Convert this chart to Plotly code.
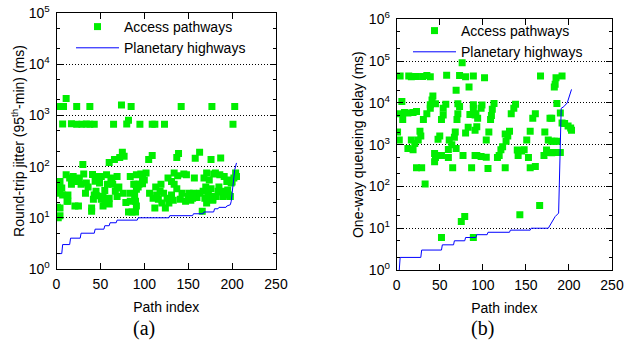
import plotly.graph_objects as go

# ---------------- data ----------------
# (a) Round-trip jitter
a_access_idx = [4, 8, 11, 23, 38, 74, 85, 142, 177, 203,
                7, 17, 23, 29, 34, 38, 43, 65, 80, 82, 95, 109, 112, 123, 201,
                30, 60, 66, 72, 75, 77,
                11, 15, 19, 21, 17, 26, 31, 34, 28, 6, 4, 7, 13, 13, 4, 4, 25,
                47, 51, 57, 49, 62, 69, 64, 69, 45, 55, 67, 43, 53, 69, 42, 51, 60, 55, 60, 40, 53, 40,
                84, 84, 84, 82, 86, 88,
                105, 109, 137, 139, 158, 163, 176,
                91, 96, 98, 100, 90, 91, 94, 98,
                134, 138, 145, 148, 157, 171, 174, 179,
                131, 134, 137, 118, 122, 114, 126, 128, 131,
                116, 120, 124, 112, 89, 90, 90,
                141, 147, 151, 156, 155,
                167, 169, 171, 175, 176, 178, 166, 91,
                187, 181, 186, 191, 194, 199, 204, 205,
                184, 188, 193, 196, 198, 182, 190, 178,
                1, 2, 2, 4, 12, 21,
                41, 44, 36, 33, 46, 58, 63, 71, 76, 79, 93, 102, 106, 110, 113, 119, 127,
                133, 143, 150, 153, 160, 163, 168, 170, 173, 185, 189, 195, 197, 200, 202]
a_access_val = [1500, 1500, 2150, 1500, 1500, 1600, 1500, 1500, 1500, 1500,
                680, 690, 670, 670, 680, 670, 670, 670, 680, 800, 670, 670, 670, 670, 670,
                110, 120, 137, 150, 190, 160,
                69, 60, 64, 51, 45, 60, 72, 48, 45, 38, 51, 28, 28, 21, 15.5, 11, 17,
                64, 64, 69, 48, 55, 64, 45, 38, 33, 34, 33, 28, 26, 26, 23, 23, 24, 21, 18.5, 15.5, 17, 13.5,
                64, 30, 21, 13, 13, 45,
                137, 165, 150, 180, 145, 190, 137,
                69, 72, 60, 55, 45, 36, 45, 46,
                75, 66, 72, 69, 60, 75, 55, 72,
                51, 45, 37, 33, 30, 28, 24, 19.5, 28,
                23, 19.5, 15.5, 15.5, 28, 21, 13,
                23, 21, 30, 30, 24,
                33, 24, 19.5, 26, 37, 22, 13.5, 17,
                148, 75, 69, 64, 51, 48, 75, 64,
                33, 32, 30, 28, 26, 26, 26, 23,
                16, 10, 39, 30, 21, 17,
                70, 52, 40, 30, 27, 45, 60, 40, 30, 20, 40, 75, 30, 24, 40, 45, 60,
                22, 30, 26, 22, 25, 30, 60, 40, 30, 40, 33, 35, 55, 50, 60]

a_highway_idx = [1, 6, 7, 15, 16, 27, 28, 43, 44, 54, 55, 60, 61, 68, 69, 92, 93,
                 128, 129, 155, 156, 167, 168, 179, 180, 184, 185, 193, 194, 198,
                 199, 201, 203, 205]
a_highway_val = [2, 2, 3, 3, 4, 4, 5, 5, 6, 6, 7, 7, 8, 8, 9, 9, 10,
                 10, 11, 11, 12, 12, 13, 13, 15, 15, 16, 16, 17, 18,
                 21, 41, 87, 118]

# (b) One-way queueing delay
b_access_idx = [76,
                4, 14, 17, 22, 30, 35, 39, 58, 73, 80, 89,
                69, 84, 42, 6, 41,
                39, 45, 57, 71, 89,
                39, 54, 73, 89,
                3, 9, 13, 19, 23, 35, 54, 71, 85, 91,
                7, 31, 52, 70,
                83, 80, 91, 27, 28, 1, 68, 67, 3, 50, 48, 25, 17, 21, 61, 64,
                13, 19, 60, 69,
                44, 45, 52, 60, 77, 91, 44,
                23, 29, 65, 87,
                33, 79, 75, 52, 89,
                102, 167,
                99, 98, 94, 92, 113, 111, 110, 109, 138, 136, 133, 161, 158, 178,
                93, 107, 104, 129, 127, 123, 121, 119, 117, 131, 126, 155, 151, 172, 176,
                93, 98, 104, 140, 145, 148, 141, 153, 171, 174, 180,
                106, 126, 155, 161, 166, 143,
                185, 192, 183, 184, 186, 190, 180, 192, 195, 199, 202, 203, 186, 184, 190,
                176, 178, 182, 186, 188, 180, 183]
b_access_val = [91000,
                44000, 44000, 42000, 43000, 43000, 45000, 42000, 46000, 45000, 42000, 44000,
                20000, 24000, 14500, 10800, 11700,
                9000, 9500, 9300, 9500, 9000,
                7400, 7400, 8200, 7400,
                5500, 5900, 5700, 5900, 6200, 5500, 5100, 5500, 5300, 5100,
                4000, 4000, 4000, 4000,
                2600, 1900, 2200, 2100, 1600, 2000, 2000, 1500, 1300, 1600, 1350, 1300, 1300, 1070, 1300, 1000,
                810, 750, 770, 810,
                610, 490, 550, 490, 550, 550, 390,
                280, 280, 280, 280,
                114, 19, 14.5, 6, 6,
                40000, 44000,
                8900, 7400, 4300, 5500, 9600, 7000, 5000, 4000, 9300, 7400, 5500, 5500, 4300, 4300,
                2700, 2000, 1300, 1600, 1200, 890, 750, 550, 490, 2100, 1800, 2100, 1300, 2000, 1300,
                550, 520, 500, 740, 700, 750, 550, 490, 550, 740, 640,
                270, 280, 280, 300, 35, 21,
                40000, 44000, 24000, 28000, 9700, 5700, 4300, 3300, 3200, 2800, 2500, 2200, 1200, 650, 650,
                650, 650, 650, 650, 650, 1200, 1200]

b_highway_idx = [3, 4, 28, 29, 52, 53, 66, 67, 79, 80, 92, 93, 105, 106, 131, 132,
                 155, 156, 176, 180, 184, 188, 189, 190, 191, 194, 198, 203]
b_highway_val = [1, 2, 2, 3, 3, 4, 4, 5, 5, 6, 6, 7, 7, 8, 8, 9,
                 9, 10, 10, 14, 19, 23, 150, 4000, 7400, 8100, 10000, 21000]

x_ticks = [0, 50, 100, 150, 200, 250]
a_decades = [0, 1, 2, 3, 4, 5]
b_decades = [0, 1, 2, 3, 4, 5, 6]

# ---------------- styling ----------------
W, H = 628, 347
FONT = "Liberation Sans, Arial, sans-serif"
FS = 14
GREEN = "#00ee00"
BLUE = "#0000ff"


def px_x(p):
    return p / W


def px_y(p):
    return 1 - p / H


def yaxis_cfg(decades, domain, title, standoff):
    vals = [10 ** d for d in decades]
    minor_vals = []
    for d in decades[:-1]:
        minor_vals += [2 * 10 ** d, 5 * 10 ** d]
    return dict(
        type="log", range=[decades[0], decades[-1]], domain=domain,
        tickmode="array", tickvals=vals,
        ticktext=["10<sup>%d</sup>" % d for d in decades],
        ticks="inside", ticklen=6, tickcolor="black", tickwidth=1,
        minor=dict(tickmode="array", tickvals=minor_vals, ticks="inside",
                   ticklen=3, tickcolor="black", showgrid=False),
        showline=True, linecolor="black", linewidth=1, mirror="ticks",
        showgrid=True, gridcolor="black", griddash="1px,2px", gridwidth=1,
        zeroline=False, ticklabelstandoff=3,
        title=dict(text=title, standoff=standoff, font=dict(size=FS)),
        automargin=False,
    )


def xaxis_cfg(domain):
    return dict(
        range=[0, 250], domain=domain,
        tickmode="array", tickvals=x_ticks,
        ticks="inside", ticklen=6, tickcolor="black", tickwidth=1,
        showline=True, linecolor="black", linewidth=1, mirror="ticks",
        showgrid=False, zeroline=False, ticklabelstandoff=2,
        title=dict(text="Path index", standoff=11, font=dict(size=FS)),
        automargin=False,
    )


fig = go.Figure()

fig.add_trace(go.Scatter(
    x=a_access_idx, y=a_access_val, mode="markers", name="Access pathways",
    marker=dict(symbol="square", size=7, color=GREEN),
    xaxis="x", yaxis="y", legend="legend"))
fig.add_trace(go.Scatter(
    x=a_highway_idx, y=a_highway_val, mode="lines", name="Planetary highways",
    line=dict(color=BLUE, width=1),
    xaxis="x", yaxis="y", legend="legend"))

fig.add_trace(go.Scatter(
    x=b_access_idx, y=b_access_val, mode="markers", name="Access pathways",
    marker=dict(symbol="square", size=7, color=GREEN),
    xaxis="x2", yaxis="y2", legend="legend2"))
fig.add_trace(go.Scatter(
    x=b_highway_idx, y=b_highway_val, mode="lines", name="Planetary highways",
    line=dict(color=BLUE, width=1),
    xaxis="x2", yaxis="y2", legend="legend2"))

legend_common = dict(
    bgcolor="rgba(0,0,0,0)", borderwidth=0, itemwidth=43,
    font=dict(size=FS, family=FONT), xanchor="left", yanchor="top",
    tracegroupgap=0,
)

fig.update_layout(
    width=W, height=H,
    margin=dict(l=0, r=0, t=0, b=0),
    paper_bgcolor="white", plot_bgcolor="white",
    font=dict(family=FONT, size=FS, color="black"),
    xaxis=xaxis_cfg([px_x(56.5), px_x(276)]),
    yaxis=yaxis_cfg(a_decades, [px_y(269), px_y(13)],
                    "Round-trip jitter (95<sup>th</sup>-min) (ms)", 0),
    xaxis2=xaxis_cfg([px_x(396.7), px_x(612)]),
    yaxis2=yaxis_cfg(b_decades, [px_y(270), px_y(19.3)],
                     "One-way queueing delay (ms)", 1),
    legend=dict(x=px_x(71), y=px_y(11), **legend_common),
    legend2=dict(x=px_x(408), y=px_y(15), **legend_common),
    showlegend=True,
    annotations=[
        dict(text="(a)", x=px_x(144), y=px_y(328), xref="paper", yref="paper",
             xanchor="center", yanchor="middle", showarrow=False,
             font=dict(family="Liberation Serif, serif", size=20)),
        dict(text="(b)", x=px_x(482), y=px_y(328), xref="paper", yref="paper",
             xanchor="center", yanchor="middle", showarrow=False,
             font=dict(family="Liberation Serif, serif", size=20)),
    ],
)
fig.layout.xaxis.anchor = "y"
fig.layout.yaxis.anchor = "x"
fig.layout.xaxis2.anchor = "y2"
fig.layout.yaxis2.anchor = "x2"

fig.write_html("out.html", config={"displayModeBar": False},
               post_script="document.body.style.margin='0px';")
